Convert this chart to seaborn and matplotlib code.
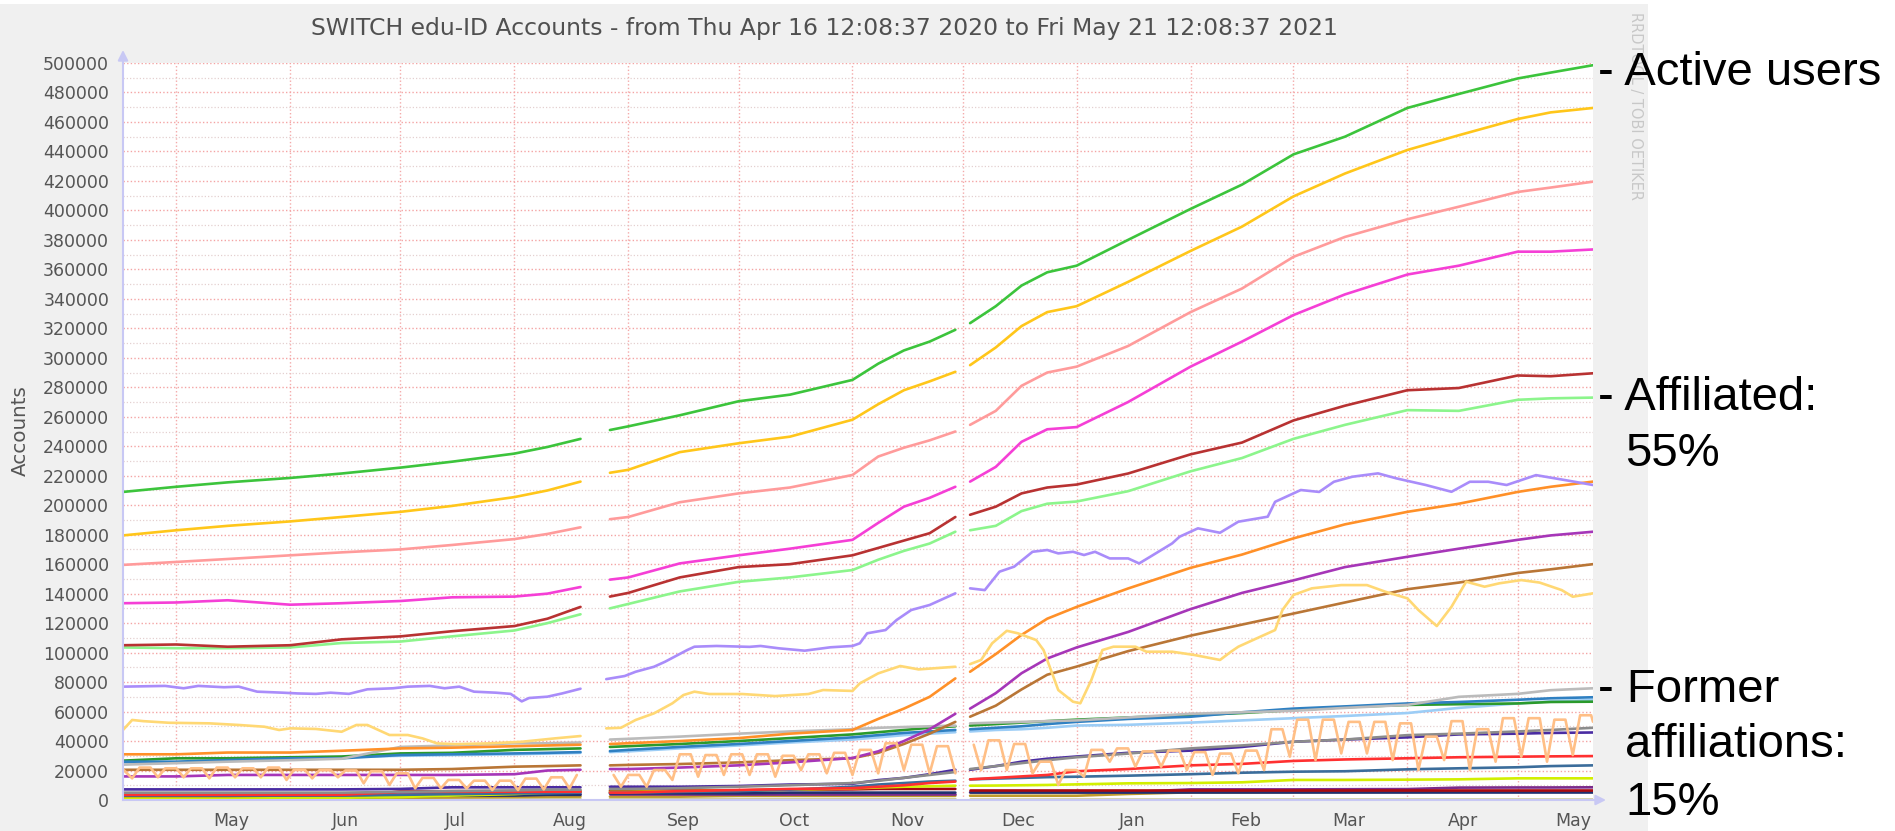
import numpy as np
import pandas as pd
import matplotlib
matplotlib.use("Agg")
import matplotlib.pyplot as plt
import matplotlib.dates as mdates
from matplotlib.patches import Rectangle
from matplotlib.ticker import MultipleLocator, FuncFormatter
import seaborn as sns

W, H = 1895, 831

# ---------------- data ----------------
KEY_DATES = ["2020-04-16 12:09", "2020-05-01", "2020-05-15", "2020-06-01", "2020-06-15",
             "2020-07-01", "2020-07-15", "2020-08-01", "2020-08-10", "2020-08-19",
             "2020-08-27", "2020-09-01", "2020-09-15", "2020-10-01", "2020-10-15",
             "2020-11-01", "2020-11-08", "2020-11-15", "2020-11-22", "2020-11-29",
             "2020-12-03", "2020-12-10", "2020-12-17", "2020-12-24", "2021-01-01",
             "2021-01-15", "2021-02-01", "2021-02-15", "2021-03-01", "2021-03-15",
             "2021-04-01", "2021-04-15", "2021-05-01", "2021-05-10", "2021-05-21 12:00"]

active_green = [209000, 212500, 215500, 218500, 221500, 225500, 229500, 235000, 239500, 245000,
                251000, 253500, 261000, 270500, 275000, 285000, 296000, 305000, 311000, 319000,
                323500, 335000, 349000, 358000, 362500, 380000, 401000, 417500, 438000, 450000,
                469500, 479000, 489500, 493500, 498500]
gold = [179500, 183000, 186000, 189000, 192000, 195500, 199500, 205500, 210000, 216000,
        222000, 224000, 236000, 242000, 246500, 258000, 268500, 278000, 284000, 290500,
        295000, 307000, 321500, 331000, 335000, 351500, 372500, 389000, 409500, 425000,
        441000, 451000, 462000, 466500, 469500]
salmon = [159500, 161500, 163500, 166000, 168000, 170000, 173000, 177000, 180500, 185000,
          190500, 192000, 202000, 208000, 212000, 220500, 233000, 239000, 244000, 250000,
          254500, 264000, 281000, 290000, 294000, 308000, 331000, 347000, 368500, 382000,
          394000, 402500, 412500, 415500, 419500]
magenta = [133500, 134000, 135500, 132500, 133500, 135000, 137500, 138000, 140000, 144500,
           149500, 151000, 160500, 166000, 170500, 176500, 188000, 199000, 205000, 212500,
           216000, 226000, 243000, 251500, 253000, 270000, 294000, 311000, 329000, 343000,
           356500, 362500, 372000, 372000, 373500]
darkred = [105000, 105500, 104000, 105000, 109000, 111000, 114500, 118000, 123000, 131000,
           138000, 140500, 151000, 158000, 160000, 166000, 171000, 176000, 181000, 192000,
           193500, 199000, 208000, 212000, 214000, 221500, 234500, 242500, 257500, 267500,
           278000, 279500, 288000, 287500, 289500]
lightgreen = [103500, 103000, 103000, 103500, 106500, 107500, 111000, 115000, 120000, 126000,
              130000, 133000, 141500, 148000, 151000, 156000, 163000, 169000, 174000, 182000,
              183000, 186000, 196000, 201000, 202500, 209500, 223000, 232000, 245000, 254500,
              264500, 264000, 271500, 272500, 273000]
orange = [31000, 31000, 32200, 32200, 33400, 35000, 35500, 36500, 37000, 37500,
          38000, 38500, 40000, 42000, 45000, 47500, 55000, 62000, 70000, 82500,
          87000, 99000, 112000, 123000, 131000, 143500, 157500, 166500, 177500, 187000,
          195500, 201000, 209000, 212500, 216000]
purple = [16000, 16000, 17000, 17000, 17000, 17000, 17000, 17500, 20000, 20500,
          21000, 21000, 22000, 23500, 25500, 28500, 33000, 40000, 48000, 58500,
          62000, 72500, 86000, 96000, 103500, 114000, 129500, 140500, 149000, 158000,
          165000, 170500, 176500, 179500, 182000]
brown = [20500, 20500, 20500, 20500, 20500, 20500, 21000, 22600, 23000, 23500,
         23500, 23800, 24400, 25500, 27000, 28300, 32000, 38000, 45000, 53000,
         56500, 64000, 75000, 85000, 90500, 101000, 111500, 119000, 126500, 134000,
         143000, 147500, 154000, 156500, 160000]
gray = [24000, 25000, 26000, 27000, 28000, 36000, 37000, 38500, 38500, 39000,
        41000, 41500, 43000, 45000, 46500, 48000, 49000, 49500, 50000, 50500,
        52000, 52500, 53000, 53500, 54000, 56000, 58500, 59500, 60500, 62500,
        64500, 70000, 72000, 74500, 75800]
blue = [26000, 26000, 27100, 28300, 28300, 30500, 31000, 31600, 32000, 32500,
        33200, 34000, 36000, 38000, 40000, 42500, 44000, 45500, 46500, 47500,
        48000, 49000, 50000, 51500, 53000, 55000, 56500, 59500, 62000, 63500,
        65500, 66500, 68000, 69000, 69700]
green2 = [26700, 28300, 28300, 29000, 29500, 31600, 32000, 34000, 34500, 35000,
          36000, 36500, 38000, 40000, 42000, 44500, 46000, 47500, 49000, 50000,
          50500, 51500, 52500, 53500, 54500, 56000, 57500, 59000, 61000, 63000,
          64500, 65000, 65500, 66500, 66700]
lightblue = [24500, 25500, 27000, 28000, 29000, 30000, 30500, 31000, 31500, 32000,
             32500, 33000, 35000, 37000, 39000, 41000, 42500, 44000, 45000, 46000,
             46500, 47500, 48000, 49000, 50500, 51000, 52500, 54000, 55500, 57000,
             59000, 62500, 65500, 67000, 67800]
darkgray = [5000, 5000, 5000, 5000, 5000, 5500, 6000, 6500, 7000, 7000,
            7500, 7500, 8000, 9000, 10000, 11500, 13000, 15000, 17000, 19000,
            21000, 23000, 25000, 27000, 29000, 31500, 35000, 37000, 39500, 41000,
            44000, 45000, 46500, 47500, 49000]
indigo = [7200, 7200, 7200, 7200, 7200, 7500, 8600, 8600, 8600, 8600,
          9000, 9000, 9000, 9500, 10500, 11000, 13500, 15000, 17500, 20500,
          20500, 23000, 26000, 28000, 29500, 32000, 33500, 36000, 39500, 41000,
          42500, 44500, 45000, 45500, 45800]
red = [3500, 3500, 3500, 3500, 3500, 5500, 5600, 5600, 5600, 5600,
       5000, 5000, 6000, 6800, 7500, 8000, 9000, 10000, 11500, 12500,
       14000, 15000, 16000, 17000, 19500, 21000, 23500, 24500, 26500, 27500,
       28300, 29000, 29400, 29600, 29800]
steelblue = [3000, 3000, 3000, 3000, 3000, 3500, 4000, 4500, 4500, 5000,
             5000, 5000, 5500, 6000, 7000, 9000, 10500, 11500, 12500, 13100,
             14000, 14500, 15000, 15500, 15800, 16500, 17500, 18500, 19200, 19500,
             20800, 21500, 22200, 23000, 23500]
yellowgreen = [1000, 1000, 1000, 1200, 1500, 2000, 3000, 4000, 5000, 5500,
               5500, 5500, 6000, 6500, 7000, 7900, 8500, 9000, 9300, 9700,
               9700, 9800, 10000, 10200, 10600, 11300, 11500, 12000, 13600, 13600,
               13800, 14000, 14700, 14700, 14700]
darkpurple = [3500, 3500, 3500, 3600, 3600, 3700, 3800, 3900, 4000, 4000,
              4100, 4100, 4100, 4100, 4100, 4100, 4100, 4100, 4100, 4100,
              5200, 5200, 5200, 5200, 5200, 5300, 7200, 7200, 7200, 7300,
              7400, 8400, 8500, 8500, 8600]
goldbrown = [1100, 1100, 1100, 1200, 1300, 1500, 1700, 2000, 2200, 2300,
             2300, 2300, 2300, 2900, 2900, 2900, 2900, 2900, 2900, 2900,
             2900, 2900, 2900, 2900, 2900, 4100, 5200, 5200, 5300, 5400,
             5500, 5700, 5700, 5700, 5700]
khaki = [300, 300, 300, 300, 300, 300, 300, 400, 500, 600,
         600, 600, 600, 700, 700, 700, 700, 700, 700, 700,
         700, 700, 700, 700, 700, 700, 700, 700, 700, 700,
         700, 700, 700, 700, 700]
navy = [2000, 2000, 2000, 1500, 1500, 2500, 3000, 3000, 3500, 3500,
        4500, 4500, 4500, 4500, 5000, 5000, 5000, 5000, 5000, 5000,
        5200, 5200, 5200, 5200, 5200, 5200, 5200, 5200, 5200, 5200,
        5200, 5200, 5200, 5200, 5200]
maroon = [1800, 1800, 1800, 1800, 1800, 5800, 6000, 6000, 6000, 6000,
          6200, 6200, 6500, 6500, 7000, 7200, 7500, 7500, 7500, 7500,
          6500, 6500, 6500, 6500, 6500, 6500, 6500, 6500, 6500, 6500,
          6500, 6500, 6500, 6500, 6500]

# lavender (wiggly)
lavender_dates = ["2020-04-16 12:09", "2020-04-28", "2020-05-03", "2020-05-07", "2020-05-14", "2020-05-18",
                  "2020-05-23", "2020-05-30", "2020-06-03", "2020-06-08", "2020-06-12", "2020-06-17",
                  "2020-06-22", "2020-06-29", "2020-07-03", "2020-07-09", "2020-07-13", "2020-07-17",
                  "2020-07-21", "2020-07-27", "2020-07-31", "2020-08-03", "2020-08-05", "2020-08-10",
                  "2020-08-14", "2020-08-19",
                  "2020-08-26", "2020-08-31", "2020-09-03", "2020-09-08", "2020-09-11", "2020-09-17",
                  "2020-09-19", "2020-09-25", "2020-10-04", "2020-10-07", "2020-10-12", "2020-10-19",
                  "2020-10-26", "2020-11-01", "2020-11-03", "2020-11-05", "2020-11-10", "2020-11-13",
                  "2020-11-17", "2020-11-22", "2020-11-29",
                  "2020-12-03", "2020-12-07", "2020-12-11", "2020-12-15", "2020-12-20", "2020-12-24",
                  "2020-12-27", "2020-12-31", "2021-01-03", "2021-01-06", "2021-01-10", "2021-01-15",
                  "2021-01-18", "2021-01-21", "2021-01-27", "2021-01-29", "2021-02-03", "2021-02-09",
                  "2021-02-14", "2021-02-22", "2021-02-24", "2021-03-03", "2021-03-08", "2021-03-12",
                  "2021-03-17", "2021-03-24", "2021-03-29", "2021-04-06", "2021-04-13", "2021-04-18",
                  "2021-04-23", "2021-04-28", "2021-05-06", "2021-05-14", "2021-05-21 12:00"]
lavender = [76900, 77400, 75800, 77400, 76500, 76900,
            73500, 72800, 72300, 72000, 72800, 72000,
            75100, 75800, 76900, 77400, 75800, 76900,
            73500, 72800, 72000, 66900, 69200, 70100,
            72300, 75500,
            82000, 84100, 87000, 90400, 93800, 101700,
            104000, 104500, 103900, 104500, 102900, 101300,
            103600, 104500, 106300, 113100, 115300, 122100,
            128900, 132300, 140200,
            143600, 142400, 154900, 158300, 168400, 169600,
            167300, 168400, 166200, 168400, 163900, 163900,
            160500, 165000, 174100, 178600, 184300, 181300,
            188800, 192200, 202300, 210300, 209000, 215900,
            219300, 221600, 218200, 213700, 209100, 215900,
            215900, 213700, 220400, 217000, 213700]

# light yellow (wiggly)
yellow_dates = ["2020-04-16 12:09", "2020-04-19", "2020-04-22", "2020-04-29", "2020-05-10", "2020-05-18",
                "2020-05-25", "2020-05-29", "2020-06-01", "2020-06-08", "2020-06-15", "2020-06-19",
                "2020-06-22", "2020-06-25", "2020-06-28", "2020-07-03", "2020-07-07", "2020-07-11",
                "2020-07-16", "2020-07-25", "2020-08-03", "2020-08-12", "2020-08-19",
                "2020-08-26", "2020-08-30", "2020-09-03", "2020-09-08", "2020-09-13", "2020-09-16",
                "2020-09-19", "2020-09-23", "2020-10-02", "2020-10-11", "2020-10-20", "2020-10-24",
                "2020-11-01", "2020-11-03", "2020-11-08", "2020-11-14", "2020-11-19", "2020-11-29",
                "2020-12-03", "2020-12-06", "2020-12-09", "2020-12-13", "2020-12-16", "2020-12-21",
                "2020-12-23", "2020-12-27", "2020-12-31", "2021-01-02", "2021-01-05", "2021-01-08",
                "2021-01-11", "2021-01-17", "2021-01-20", "2021-01-27", "2021-02-02", "2021-02-09",
                "2021-02-12", "2021-02-14", "2021-02-20", "2021-02-24", "2021-02-26", "2021-03-01",
                "2021-03-06", "2021-03-14", "2021-03-21", "2021-03-26", "2021-04-01", "2021-04-04",
                "2021-04-09", "2021-04-13", "2021-04-17", "2021-04-22", "2021-04-26", "2021-05-02",
                "2021-05-07", "2021-05-13", "2021-05-16", "2021-05-21 12:00"]
lightyellow = [47500, 54300, 53500, 52400, 52000, 50900,
               49700, 47500, 48600, 48200, 46300, 50900,
               50900, 47500, 44100, 44100, 41800, 38400,
               37900, 38400, 39500, 41800, 43400,
               48600, 49000, 54300, 58800, 65600, 71200,
               73500, 71900, 71900, 70500, 71900, 74600,
               74000, 79100, 85900, 90900, 88600, 90400,
               92200, 95000, 106300, 114800, 113100, 108500,
               101700, 74600, 66700, 65600, 81400, 101700,
               104000, 104000, 100600, 100600, 98400, 95000,
               100600, 104000, 110800, 115300, 128900, 139100,
               143600, 145800, 145800, 141300, 136800, 128900,
               118000, 131100, 148100, 144700, 147000, 149200,
               147500, 142400, 137900, 140200]

# peach: weekly pattern (Sunday low, weekday level)
peach_first_sunday = "2020-04-19"
peach_low = [14700, 15400, 15400, 14700, 15400, 15400, 13600, 14700, 15400, 11300,
             10200, 7900, 7900, 7900, 6800, 6800, 7200, 7900, 9000, 9000,
             9000, 13600, 15800, 17000, 17000, 15800, 20300, 18100, 17000, 18100,
             20300, 18100, 18100, 20300, 20300, 18100, 10200, 15800, 26000, 22600,
             22600, 20300, 17000, 18100, 20300, 29400, 27100, 31600, 31600, 27100,
             20300, 27100, 20300, 26000, 29400, 26000, 30500]
peach_high = [22000, 21500, 21500, 22000, 21500, 22000, 20500, 20300, 20000, 19500,
              18100, 15000, 13600, 13100, 13100, 14500, 15400, 17000, 17000, 17000,
              20300, 31000, 30500, 31000, 31000, 30000, 31000, 32000, 34000, 38500,
              37500, 36500, 37500, 40500, 38000, 26000, 20300, 34000, 35000, 33000,
              33500, 32500, 31500, 33500, 48000, 54500, 54500, 53000, 53000, 52000,
              43000, 53500, 48000, 55500, 55500, 54500, 57500]
peach_start = 20800
peach_end = 53100

MONTH_STARTS = ["2020-05-01", "2020-06-01", "2020-07-01", "2020-08-01", "2020-09-01",
                "2020-10-01", "2020-11-01", "2020-12-01", "2021-01-01", "2021-02-01",
                "2021-03-01", "2021-04-01", "2021-05-01"]
MONTH_LABELS = ["May", "Jun", "Jul", "Aug", "Sep", "Oct", "Nov", "Dec",
                "Jan", "Feb", "Mar", "Apr", "May"]

GAPS = [("2020-08-19 18:00", "2020-08-25 18:00"), ("2020-11-29 18:00", "2020-12-02 18:00")]

TITLE = "SWITCH edu-ID Accounts - from Thu Apr 16 12:08:37 2020 to Fri May 21 12:08:37 2021"

# ---------------- assemble table ----------------
key_series = {
    "khaki": khaki, "goldbrown": goldbrown, "darkpurple": darkpurple, "navy": navy,
    "maroon": maroon, "yellowgreen": yellowgreen, "steelblue": steelblue, "red": red,
    "indigo": indigo, "darkgray": darkgray, "lightblue": lightblue, "green2": green2,
    "blue": blue, "gray": gray, "brown": brown, "purple": purple, "orange": orange,
    "lightgreen": lightgreen, "darkred": darkred, "magenta": magenta, "salmon": salmon,
    "gold": gold, "active_green": active_green,
}
palette = {
    "khaki": "#cdcd9c", "goldbrown": "#bf9a2c", "darkpurple": "#7a2a8c", "navy": "#1f2f6e",
    "maroon": "#a80a10", "yellowgreen": "#d2ef00", "steelblue": "#3b6d9b", "red": "#ff3030",
    "indigo": "#4a2ca2", "darkgray": "#8c8c8c", "lightblue": "#9ccdf6", "green2": "#2b9a2b",
    "blue": "#2f80c2", "gray": "#bbbbbb", "brown": "#b97636", "purple": "#a636b8",
    "peach": "#ffbf86", "orange": "#ff9028", "lightyellow": "#ffd874", "lavender": "#a98cfa",
    "lightgreen": "#8cf58c", "darkred": "#b83232", "magenta": "#f53fd6", "salmon": "#ff9b9b",
    "gold": "#ffc61a", "active_green": "#3cc43c",
}
order = ["khaki", "goldbrown", "darkpurple", "navy", "maroon", "yellowgreen", "steelblue",
         "red", "indigo", "darkgray", "lightblue", "green2", "blue", "gray", "brown", "purple",
         "peach", "orange", "lightyellow", "lavender", "lightgreen", "darkred", "magenta",
         "salmon", "gold", "active_green"]


def to_dt(values):
    return pd.to_datetime(values, format="ISO8601")


frames = []
kd = to_dt(KEY_DATES)
for name, vals in key_series.items():
    frames.append(pd.DataFrame({"date": kd, "value": vals, "series": name}))
frames.append(pd.DataFrame({"date": to_dt(lavender_dates), "value": lavender, "series": "lavender"}))
frames.append(pd.DataFrame({"date": to_dt(yellow_dates), "value": lightyellow, "series": "lightyellow"}))

sundays = pd.date_range(peach_first_sunday, periods=len(peach_low), freq="7D")
p_dates, p_vals = [pd.Timestamp("2020-04-16 12:09")], [peach_start]
for s, lo, hi in zip(sundays, peach_low, peach_high):
    p_dates += [s, s + pd.Timedelta(days=2), s + pd.Timedelta(days=5)]
    p_vals += [lo, hi, hi]
p_dates.append(pd.Timestamp("2021-05-21 12:00"))
p_vals.append(peach_end)
frames.append(pd.DataFrame({"date": pd.to_datetime(p_dates), "value": p_vals, "series": "peach"}))

df = pd.concat(frames, ignore_index=True)
g = [(pd.Timestamp(a), pd.Timestamp(b)) for a, b in GAPS]
inside = np.zeros(len(df), bool)
for a, b in g:
    inside |= ((df["date"] > a) & (df["date"] < b)).to_numpy()
df = df[~inside].copy()
df["seg"] = (df["date"] >= g[0][1]).astype(int) + (df["date"] >= g[1][1]).astype(int)

# ---------------- draw ----------------
sns.set_style("white")
plt.rcParams["font.family"] = ["DejaVu Sans"]

fig = plt.figure(figsize=(W / 100, H / 100), dpi=100)
fig.patch.set_facecolor("white")
fig.patches.append(Rectangle((0, 0), 1648 / W, 1 - 4 / H, transform=fig.transFigure,
                             facecolor="#f0f0f0", edgecolor="none", zorder=-10))

ax = fig.add_axes([123 / W, 1 - 800 / H, 1470 / W, 737 / H])
ax.set_facecolor("white")

sns.lineplot(data=df, x="date", y="value", hue="series", units="seg", estimator=None,
             hue_order=order, palette=palette, legend=False, linewidth=1.9, sort=True, ax=ax)

ax.set_xlim(pd.Timestamp("2020-04-16 12:08:37"), pd.Timestamp("2021-05-21 12:08:37"))
ax.set_ylim(0, 500000)
ax.set_xlabel("")
ax.set_ylabel("")

ms = to_dt(MONTH_STARTS)
ax.set_xticks(mdates.date2num(ms))
ax.set_xticklabels([])
ax.set_xticks(mdates.date2num(ms + pd.Timedelta(days=15)), minor=True)
ax.set_xticklabels(MONTH_LABELS, minor=True)
ax.tick_params(axis="x", which="both", length=0, pad=9, labelsize=12.5, labelcolor="#555555")

ax.yaxis.set_major_locator(MultipleLocator(20000))
ax.yaxis.set_minor_locator(MultipleLocator(10000))
ax.yaxis.set_major_formatter(FuncFormatter(lambda v, p: f"{int(round(v))}"))
ax.tick_params(axis="y", which="major", length=4, width=1, color="#f2a0a0", pad=6,
               labelsize=12.5, labelcolor="#555555")
ax.tick_params(axis="y", which="minor", length=4, width=1, color="#dcd0d0")

dot = (0, (1, 1.6))
ax.grid(True, which="major", axis="y", color="#f4a4a4", linestyle=dot, linewidth=1.0)
ax.grid(True, which="minor", axis="y", color="#e4d0d0", linestyle=dot, linewidth=0.9)
ax.grid(True, which="major", axis="x", color="#f4aaaa", linestyle=dot, linewidth=1.0)
ax.set_axisbelow(True)

for side in ["top", "right"]:
    ax.spines[side].set_visible(False)
for side in ["left", "bottom"]:
    ax.spines[side].set_color("#c8c8f4")
    ax.spines[side].set_linewidth(1.5)
ax.annotate("", xy=(0, 1 + 13 / 737), xytext=(0, 1), xycoords="axes fraction",
            arrowprops=dict(arrowstyle="-|>,head_width=0.3,head_length=0.6",
                            color="#c8c8f4", lw=1.5, shrinkA=0, shrinkB=0), annotation_clip=False)
ax.annotate("", xy=(1 + 13 / 1470, 0), xytext=(1, 0), xycoords="axes fraction",
            arrowprops=dict(arrowstyle="-|>,head_width=0.3,head_length=0.6",
                            color="#c8c8f4", lw=1.5, shrinkA=0, shrinkB=0), annotation_clip=False)

fig.text(824 / W, 1 - 28 / H, TITLE, ha="center", va="center", fontsize=16.9, color="#505050")
fig.text(20 / W, 1 - 431 / H, "Accounts", rotation=90, ha="center", va="center",
         fontsize=14.3, color="#555555")
fig.text(1636 / W, 1 - 12 / H, "RRDTOOL / TOBI OETIKER", rotation=270, ha="center", va="top",
         fontsize=10.5, color="#c8c8c8")

ann = dict(fontsize=34, color="black", family=["Liberation Sans", "DejaVu Sans"],
           va="baseline", ha="left")
fig.text(1598 / W, 1 - 85 / H, "- Active users", **ann)
fig.text(1598 / W, 1 - 410 / H, "- Affiliated:", **ann)
fig.text(1625 / W, 1 - 466 / H, "55%", **ann)
fig.text(1598 / W, 1 - 702 / H, "- Former", **ann)
fig.text(1625 / W, 1 - 757 / H, "affiliations:", **ann)
fig.text(1625 / W, 1 - 815 / H, "15%", **ann)

fig.savefig("out.png", dpi=100)
